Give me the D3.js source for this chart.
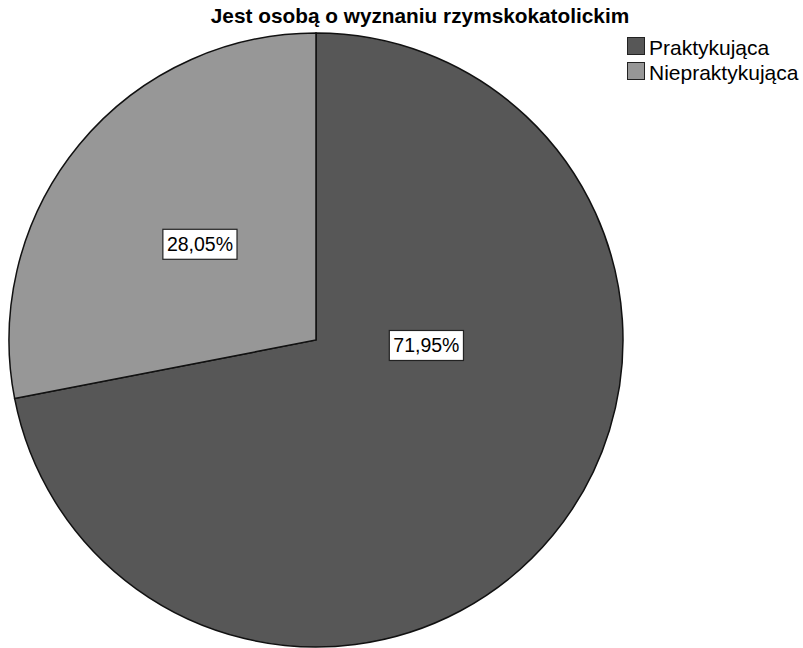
<!DOCTYPE html>
<html>
<head>
<meta charset="utf-8">
<script src="https://cdn.jsdelivr.net/npm/d3@7"></script>
<style>
  html, body { margin: 0; padding: 0; background: #fff; }
  svg { display: block; }
</style>
</head>
<body>
<svg id="chart" width="803" height="648"></svg>
<script>
const title = "Jest osobą o wyznaniu rzymskokatolickim";
const categories = ["Praktykująca", "Niepraktykująca"];
const values = [71.95, 28.05];
const colors = ["#575757", "#979797"];

const svg = d3.select("#chart");
const cx = 316, cy = 340, R = 307;

const fmt = v => d3.format(".2f")(v).replace(".", ",") + "%";

svg.append("text")
  .attr("x", 420).attr("y", 23)
  .attr("text-anchor", "middle")
  .attr("font-family", "Liberation Sans, Arial, sans-serif")
  .attr("font-weight", "bold")
  .attr("font-size", 20.8)
  .attr("fill", "#000")
  .text(title);

const pie = d3.pie().sort(null).value(d => d)(values);
const arc = d3.arc().innerRadius(0).outerRadius(R);

const g = svg.append("g").attr("transform", `translate(${cx},${cy})`);
g.selectAll("path.slice")
  .data(pie)
  .join("path")
  .attr("class", "slice")
  .attr("d", arc)
  .attr("fill", (d, i) => colors[i])
  .attr("stroke", "#111")
  .attr("stroke-width", 1.5);

// value labels: placed along each slice at a chosen radius/angle offset
const labelPlace = [
  { r: 0.36, shift: -0.64 },
  { r: 0.49, shift: 0.0 }
];
const labels = g.selectAll("g.lbl")
  .data(pie)
  .join("g")
  .attr("class", "lbl")
  .attr("transform", (d, i) => {
    const a = (d.startAngle + d.endAngle) / 2 + labelPlace[i].shift;
    const rr = R * labelPlace[i].r;
    return `translate(${rr * Math.sin(a)},${-rr * Math.cos(a)})`;
  });

labels.each(function(d) {
  const sel = d3.select(this);
  const t = sel.append("text")
    .attr("text-anchor", "middle")
    .attr("dominant-baseline", "central")
    .attr("font-family", "Liberation Sans, Arial, sans-serif")
    .attr("font-size", 19.5)
    .attr("fill", "#000")
    .text(fmt(d.data));
  const bb = t.node().getBBox();
  sel.insert("rect", "text")
    .attr("x", bb.x - 4).attr("y", -15)
    .attr("width", bb.width + 8).attr("height", 30)
    .attr("fill", "#fff")
    .attr("stroke", "#222")
    .attr("stroke-width", 1.2);
});

// legend
const leg = svg.append("g").attr("transform", "translate(627,37)");
const items = leg.selectAll("g.item")
  .data(categories)
  .join("g")
  .attr("class", "item")
  .attr("transform", (d, i) => `translate(0,${i * 25})`);
items.append("rect")
  .attr("x", 0.5).attr("y", 0.5)
  .attr("width", 17).attr("height", 17)
  .attr("fill", (d, i) => colors[i])
  .attr("stroke", "#222")
  .attr("stroke-width", 1);
items.append("text")
  .attr("x", 22).attr("y", 10)
  .attr("dominant-baseline", "central")
  .attr("font-family", "Liberation Sans, Arial, sans-serif")
  .attr("font-size", 21)
  .attr("fill", "#000")
  .text(d => d);
</script>
</body>
</html>
